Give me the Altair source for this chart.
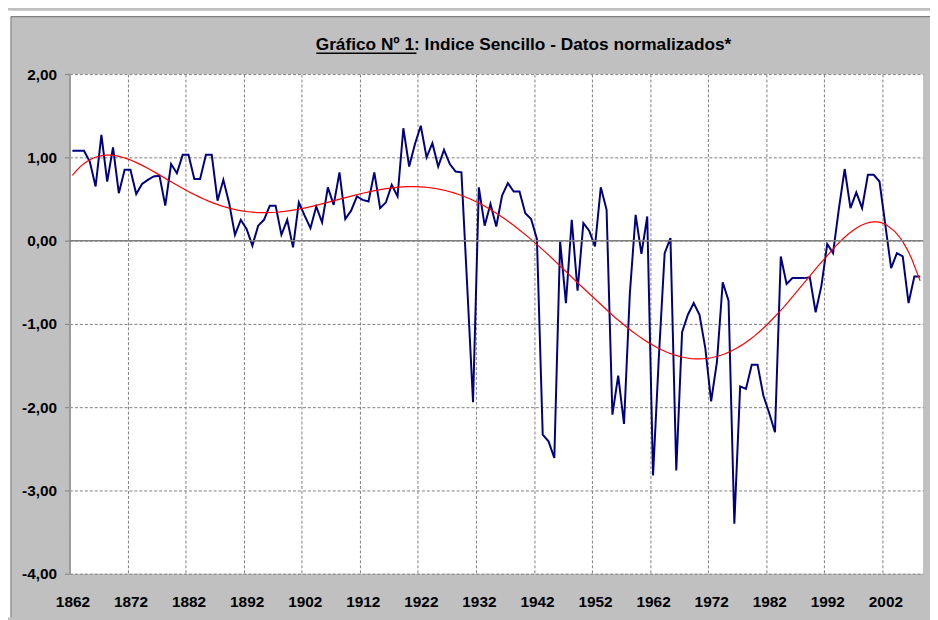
import altair as alt
import pandas as pd

# ---- data ----
years = list(range(1862, 2009))
indice = [
    1.08, 1.08, 1.08, 0.95, 0.65, 1.27, 0.71, 1.12, 0.57, 0.85,   # 1862-1871
    0.85, 0.56, 0.68, 0.73, 0.77, 0.78, 0.42, 0.92, 0.81, 1.03,   # 1872-1881
    1.03, 0.74, 0.74, 1.03, 1.03, 0.48, 0.73, 0.45, 0.07, 0.25,   # 1882-1891
    0.14, -0.06, 0.18, 0.25, 0.42, 0.42, 0.07, 0.25, -0.08, 0.46, # 1892-1901
    0.30, 0.15, 0.41, 0.22, 0.64, 0.43, 0.82, 0.26, 0.36, 0.53,   # 1902-1911
    0.49, 0.47, 0.82, 0.39, 0.46, 0.67, 0.53, 1.35, 0.89, 1.16,   # 1912-1921
    1.38, 1.00, 1.17, 0.89, 1.09, 0.92, 0.83, 0.82, -0.55, -1.94, # 1922-1931
    0.64, 0.18, 0.44, 0.17, 0.54, 0.69, 0.59, 0.59, 0.33, 0.26,   # 1932-1941
    0.02, -2.33, -2.41, -2.61, -0.01, -0.75, 0.25, -0.60, 0.21, 0.12,  # 1942-1951
    -0.07, 0.64, 0.37, -2.09, -1.62, -2.20, -0.64, 0.31, -0.16, 0.29,  # 1952-1961
    -2.82, -1.40, -0.15, 0.03, -2.76, -1.10, -0.89, -0.75, -0.89, -1.29, # 1962-1971
    -1.93, -1.46, -0.50, -0.72, -3.40, -1.75, -1.78, -1.49, -1.49, -1.86, # 1972-1981
    -2.07, -2.30, -0.19, -0.52, -0.45, -0.45, -0.45, -0.44, -0.86, -0.54, # 1982-1991
    -0.04, -0.15, 0.38, 0.86, 0.39, 0.58, 0.39, 0.79, 0.79, 0.71,  # 1992-2001
    0.19, -0.33, -0.15, -0.19, -0.75, -0.43, -0.43,                # 2002-2008
]
title_main = "Gráfico Nº 1: Indice Sencillo - Datos normalizados*"
y_ticks = [-4, -3, -2, -1, 0, 1, 2]
x_bounds = [1861.5 + 10 * i for i in range(15)]   # category boundaries every 10 years

df = pd.DataFrame({"year": years, "valor": indice})
one = pd.DataFrame({"z": [0]})
title_df = pd.DataFrame({"t": [title_main]})

FONT = "Liberation Sans"

x_enc = alt.X(
    "year:Q",
    scale=alt.Scale(domain=[1861.5, 2008.5], nice=False, zero=False),
    axis=alt.Axis(
        values=x_bounds,
        labelExpr="format(datum.value + 0.5, 'd')",
        labelOffset=3,
        labelFlush=False,
        labelOverlap=False,
        domain=False, ticks=False, tickSize=0,
        labelPadding=21,
        title=None,
    ),
)
y_enc = alt.Y(
    "valor:Q",
    scale=alt.Scale(domain=[-4, 2], nice=False, zero=False),
    axis=alt.Axis(
        values=y_ticks,
        labelExpr="replace((datum.value < 0 ? '-' : '') + format(abs(datum.value), '.2f'), '.', ',')",
        labelFlush=False,
        labelOverlap=False,
        domainColor="#999999", domainWidth=2,
        tickColor="#808080", tickSize=5,
        labelPadding=8,
        title=None,
    ),
)

base = alt.Chart(df).encode(x=x_enc)

serie = base.mark_line(color="#000080", strokeWidth=2).encode(y=y_enc)

tendencia = (
    base.transform_regression("year", "valor", method="poly", order=6)
    .mark_line(color="#ff0000", strokeWidth=1.2)
    .encode(y=alt.Y("valor:Q"))
)

zero_line = alt.Chart(one).mark_rule(color="#808080", strokeWidth=1.5).encode(y=alt.datum(0))

# decorative frame of the Excel chart area, title text and its underline
frame_top = alt.Chart(one).mark_rect(color="white").encode(
    x=alt.value(-62), x2=alt.value(868), y=alt.value(-64), y2=alt.value(-58))
frame_left = alt.Chart(one).mark_rect(color="white").encode(
    x=alt.value(-62), x2=alt.value(-59), y=alt.value(-64), y2=alt.value(548))
border_top = alt.Chart(one).mark_rule(color="#808080", strokeWidth=1.2).encode(
    x=alt.value(-59), x2=alt.value(868), y=alt.value(-58))
border_left = alt.Chart(one).mark_rule(color="#808080", strokeWidth=1.2).encode(
    x=alt.value(-59), y=alt.value(-58), y2=alt.value(548))
title_mark = alt.Chart(title_df).mark_text(
    font=FONT, fontSize=17.4, fontWeight="bold", color="black",
    align="center", baseline="alphabetic",
).encode(text="t:N", x=alt.value(458), y=alt.value(-24))
underline = alt.Chart(one).mark_rule(color="black", strokeWidth=1.5).encode(
    x=alt.value(249), x2=alt.value(350), y=alt.value(-21))

chart = (
    alt.layer(serie, tendencia, zero_line, frame_top, frame_left, border_top, border_left,
              title_mark, underline)
    .properties(
        width=861,
        height=504,
        background="#c0c0c0",
        padding={"left": 62, "top": 64, "right": 7, "bottom": 44},
        autosize=alt.AutoSizeParams(type="none"),
    )
    .configure_view(fill="white", stroke=None)
    .configure_axis(
        grid=True, gridDash=[3, 2], gridColor="#808080", gridWidth=1,
        labelFont=FONT, labelFontSize=15.5, labelFontWeight="bold", labelColor="black",
    )
)

chart.save("out.html", embed_options={"renderer": "svg", "actions": False})
